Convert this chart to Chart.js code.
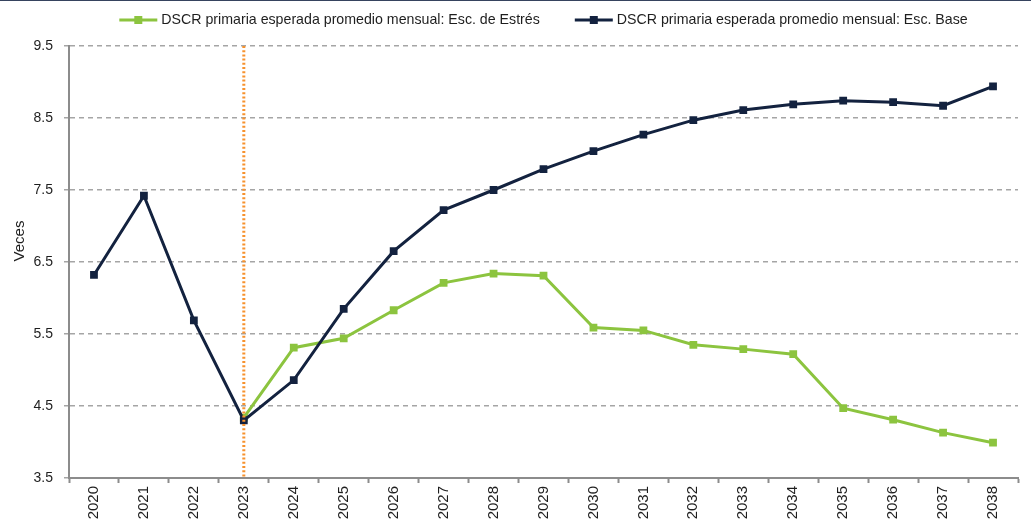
<!DOCTYPE html>
<html>
<head>
<meta charset="utf-8">
<script src="https://cdn.jsdelivr.net/npm/chart.js@4.4.0/dist/chart.umd.min.js"></script>
<style>
  html, body { margin: 0; padding: 0; background: #fff; }
  #wrap { position: relative; width: 1031px; height: 521px; }
  #topline { position: absolute; left: 0; top: 0; width: 1031px; height: 1px; background: #36435e; }
</style>
</head>
<body>
<div id="wrap">
  <canvas id="theChart" width="1031" height="521"></canvas>
  <div id="topline"></div>
</div>
<script>
"use strict";

// Data
const years = ["2020", "2021", "2022", "2023", "2024", "2025", "2026", "2027", "2028", "2029",
  "2030", "2031", "2032", "2033", "2034", "2035", "2036", "2037", "2038"];
const stressValues = [null, null, null, 4.34, 5.31, 5.44, 5.83, 6.21, 6.34, 6.31,
  5.59, 5.55, 5.35, 5.29, 5.22, 4.47, 4.31, 4.13, 3.99];
const baseValues = [6.32, 7.42, 5.69, 4.30, 4.86, 5.85, 6.65, 7.22, 7.50, 7.79,
  8.04, 8.27, 8.47, 8.61, 8.69, 8.74, 8.72, 8.67, 8.94];
const seriesNames = [
  "DSCR primaria esperada promedio mensual: Esc. de Estrés",
  "DSCR primaria esperada promedio mensual: Esc. Base",
];
const yTitle = "Veces";
const markerYear = "2023";
const yMin = 3.5;
const yMax = 9.5;
const yStep = 1;

const FONT_FAMILY = '"Liberation Sans", Arial, sans-serif';
const TEXT_COLOR = "#1e1e1e";
const GREEN = "#8cc43f";
const NAVY = "#13223f";

// Legend drawn as line + square marker, like the original
const lineLegend = {
  id: "lineLegend",
  afterDraw(chart) {
    const ctx = chart.ctx;
    const sets = chart.data.datasets;
    const lineLen = 38;
    const textGap = 4;
    const itemGap = 35;
    ctx.save();
    ctx.font = "14.2px " + FONT_FAMILY;
    const widths = sets.map((ds) => lineLen + textGap + ctx.measureText(ds.label).width);
    const total = widths.reduce((a, b) => a + b, 0) + itemGap * (sets.length - 1);
    let x = (chart.chartArea.left + chart.chartArea.right) / 2 - total / 2;
    const y = 20;
    sets.forEach((ds, i) => {
      ctx.strokeStyle = ds.borderColor;
      ctx.lineWidth = 3;
      ctx.beginPath();
      ctx.moveTo(x, y);
      ctx.lineTo(x + lineLen, y);
      ctx.stroke();
      ctx.fillStyle = ds.borderColor;
      ctx.fillRect(x + lineLen / 2 - 4, y - 4, 8, 8);
      ctx.fillStyle = TEXT_COLOR;
      ctx.textBaseline = "middle";
      ctx.textAlign = "left";
      ctx.fillText(ds.label, x + lineLen + textGap, y);
      x += widths[i] + itemGap;
    });

    // y axis title
    ctx.translate(20, 241);
    ctx.rotate(-Math.PI / 2);
    ctx.textAlign = "center";
    ctx.font = "15px " + FONT_FAMILY;
    ctx.fillText(yTitle, 0, 0);
    ctx.restore();
  },
};

// Dotted orange marker at the base year
const markerLine = {
  id: "markerLine",
  afterDatasetsDraw(chart) {
    const ctx = chart.ctx;
    const x = chart.scales.x.getPixelForValue(years.indexOf(markerYear));
    const { top, bottom } = chart.chartArea;
    ctx.save();
    ctx.strokeStyle = "#f7922e";
    ctx.lineWidth = 3;
    ctx.setLineDash([2, 2.2]);
    ctx.beginPath();
    ctx.moveTo(x, top);
    ctx.lineTo(x, bottom);
    ctx.stroke();
    ctx.restore();
  },
};

new Chart(document.getElementById("theChart"), {
  type: "line",
  data: {
    labels: years,
    datasets: [
      {
        label: seriesNames[0],
        data: stressValues,
        borderColor: GREEN,
        backgroundColor: GREEN,
        borderWidth: 3,
        pointStyle: "rect",
        pointRadius: 5.5,
        pointBorderWidth: 0,
        tension: 0,
        order: 1,
      },
      {
        label: seriesNames[1],
        data: baseValues,
        borderColor: NAVY,
        backgroundColor: NAVY,
        borderWidth: 3,
        pointStyle: "rect",
        pointRadius: 5.5,
        pointBorderWidth: 0,
        tension: 0,
        order: 0,
      },
    ],
  },
  options: {
    responsive: false,
    animation: false,
    layout: { padding: { top: 46, right: 13, left: 0, bottom: 0 } },
    plugins: {
      legend: { display: false },
      tooltip: { enabled: false },
    },
    scales: {
      x: {
        offset: true,
        grid: {
          offset: true,
          drawOnChartArea: false,
          tickLength: 5,
          tickColor: "#8c8c8c",
          tickWidth: 2,
        },
        border: { color: "#8c8c8c", width: 2 },
        ticks: {
          minRotation: 90,
          maxRotation: 90,
          padding: 3,
          color: TEXT_COLOR,
          font: { family: FONT_FAMILY, size: 15 },
        },
        afterFit(scale) {
          scale.height = 43;
        },
      },
      y: {
        min: yMin,
        max: yMax,
        grid: {
          color: "#a5a5a5",
          lineWidth: 1.5,
          tickLength: 5,
          tickColor: "#a5a5a5",
        },
        border: { color: "#8c8c8c", width: 2, dash: [5, 4] },
        ticks: {
          stepSize: yStep,
          padding: 11,
          color: TEXT_COLOR,
          font: { family: FONT_FAMILY, size: 14 },
          callback: (v) => Number(v).toFixed(1),
        },
        afterFit(scale) {
          scale.width = 69;
        },
      },
    },
  },
  plugins: [lineLegend, markerLine],
});
</script>
</body>
</html>
